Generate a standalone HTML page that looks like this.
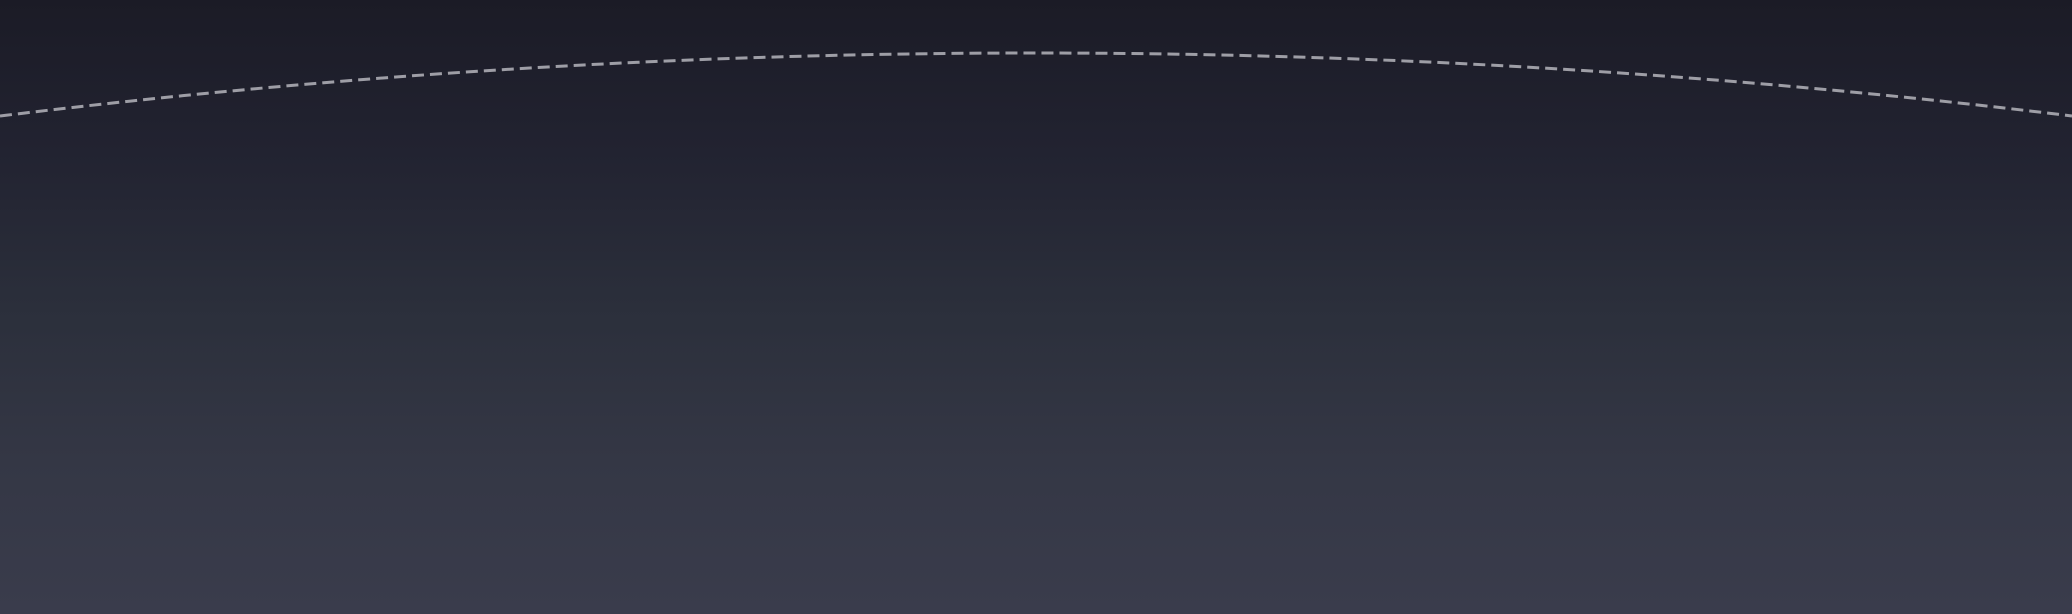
<!DOCTYPE html>
<html><head><meta charset="utf-8"><style>
html,body{margin:0;padding:0;}
body{width:2072px;height:614px;overflow:hidden;background:linear-gradient(to bottom,#1b1b26 0%,#222331 25%,#2b2f3b 50%,#343745 75%,#3a3c4c 100%);}
svg{position:absolute;left:0;top:0;}
</style></head><body>
<svg width="2072" height="614">
<path d="M0,116 A8550,8550 0 0 1 2072,116" fill="none" stroke="#9e9ea6" stroke-width="3" stroke-dasharray="12,6"/>
</svg>
</body></html>
